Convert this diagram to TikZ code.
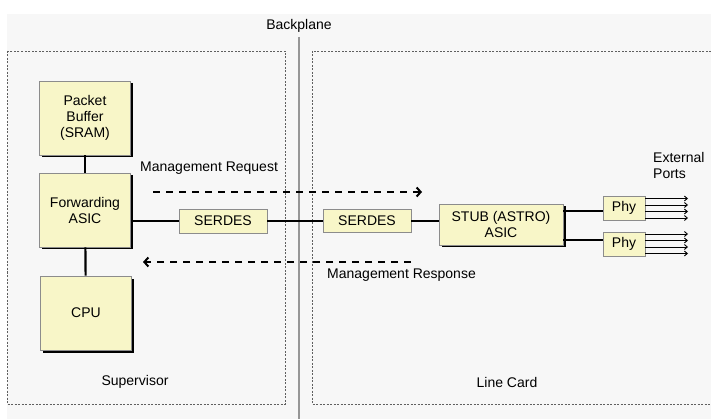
\documentclass[tikz,border=0pt]{standalone}
\usepackage{fontspec}
\setmainfont{Liberation Sans}
\usetikzlibrary{arrows.meta,shadows,calc}
\definecolor{bgc}{RGB}{247,247,247}
\definecolor{boxfill}{RGB}{248,246,200}
\definecolor{boxline}{RGB}{140,140,140}
\definecolor{dashbox}{RGB}{95,95,95}
\definecolor{bpline}{RGB}{150,150,150}
\begin{document}
\begin{tikzpicture}[x=1pt,y=-1pt,
  font=\fontsize{14}{16}\selectfont,
  blk/.style={draw=boxline, line width=0.8pt, fill=boxfill, inner sep=0pt, align=center},
  sblk/.style={blk, general shadow={fill=black, shadow xshift=2.5pt, shadow yshift=-2.5pt}},
  area/.style={draw=dashbox, line width=0.6pt, dash pattern=on 2pt off 1.5pt},
  link/.style={draw=black, line width=2.2pt},
  thinlink/.style={draw=black, line width=1.5pt},
  mgmt/.style={draw=black, line width=2.2pt, dash pattern=on 7pt off 6pt,
     -{Straight Barb[length=4pt,width=9pt,line width=2pt]}},
  port/.style={draw=black, line width=0.9pt, -{Straight Barb[length=3pt,width=5pt]}},
  lbl/.style={inner sep=0pt}
]
\useasboundingbox (0,0) rectangle (711,419);
\fill[bgc] (7,14) rectangle (711,419);
% areas
\draw[area] (7,51) rectangle (285,404);
\draw[area] (711,51) -- (312,51) -- (312,404) -- (711,404);
% backplane
\node[lbl] (bp) at (299,26) {Backplane};
\coordinate (bptop) at (299,37);
\coordinate (bpbot) at (299,419);
\draw[bpline, line width=1.8pt] (bptop) -- (bpbot);
% boxes
\node[sblk, minimum width=91pt, minimum height=74pt] (PB) at (85,118) {Packet\\Buffer\\(SRAM)};
\node[sblk, minimum width=91pt, minimum height=74pt] (FA) at (85,210) {Forwarding\\ASIC};
\node[sblk, minimum width=91pt, minimum height=74pt] (CPU) at (86,313) {CPU};
\node[blk, minimum width=88pt, minimum height=24pt] (SL) at (223,221) {SERDES};
\node[blk, minimum width=88pt, minimum height=23pt] (SR) at (367,221) {SERDES};
\node[sblk, minimum width=124pt, minimum height=41pt] (STUB) at (501,224.5) {STUB (ASTRO)\\ASIC};
\node[blk, minimum width=42pt, minimum height=24pt] (P1) at (624,208) {Phy};
\node[blk, minimum width=42pt, minimum height=24pt] (P2) at (624,244) {Phy};
% connectors
\draw[link] (PB) -- (FA);
\draw[link] (FA) -- (CPU);
\draw[link] (SL.west -| FA.east) -- (SL.west);
\draw[link] (SL.east) -- (SR.west);
\draw[thinlink] (SR.east) -- (SR.east -| STUB.west);
\draw[link] ([yshift=-3pt]P1.west -| STUB.east) -- ([yshift=-3pt]P1.west);
\draw[link] ([yshift=4pt]P2.west -| STUB.east) -- ([yshift=4pt]P2.west);
% external ports
\foreach \i/\yy in {a/198.5,b/205,c/211.5,d/218}{
  \coordinate (o1\i) at (688,\yy);
  \draw[port] (P1.east |- o1\i) -- (o1\i);
}
\foreach \i/\yy in {a/234,b/240.5,c/247,d/253.5}{
  \coordinate (o2\i) at (688,\yy);
  \draw[port] (P2.east |- o2\i) -- (o2\i);
}
\node[lbl, anchor=west, align=left] (ext) at (653,165) {External\\Ports};
% management
\node[lbl, anchor=west] (mreq) at (140,168) {Management Request};
\coordinate (reqS) at (153,192);
\coordinate (reqE) at (422,192);
\draw[mgmt] (reqS) -- (reqE);
\coordinate (resS) at (411,262);
\coordinate (resE) at (143,262);
\draw[mgmt] (resS) -- (resE);
\node[lbl, anchor=west] (mres) at (327,275) {Management Response};
% area labels
\node[lbl] (sup) at (135,382) {Supervisor};
\node[lbl] (lc) at (507,382) {Line Card};
\end{tikzpicture}
\end{document}
